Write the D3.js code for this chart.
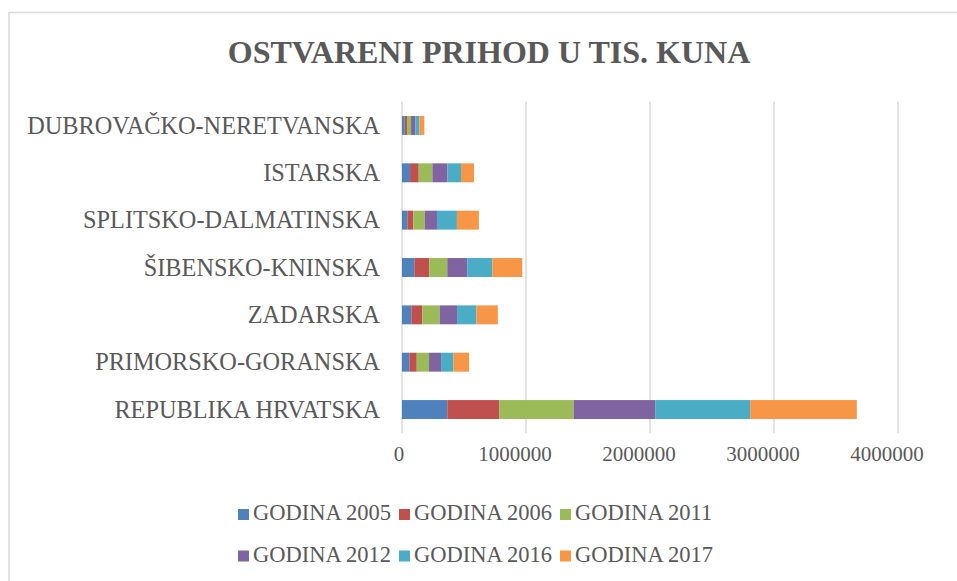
<!DOCTYPE html>
<html lang="hr">
<head>
  <meta charset="UTF-8">
  <title>Ostvareni prihod</title>
  <script src="https://d3js.org/d3.v7.min.js"></script>
  <style>
    html, body { margin: 0; padding: 0; background: #fff; }
    text { font-family: "Liberation Serif", "Times New Roman", serif; fill: #595959; }
  </style>
</head>
<body>
  <div class="canvas"></div>
  <script>
    // kategorije odozgo prema dolje
    const regije = ['DUBROVAČKO-NERETVANSKA', 'ISTARSKA', 'SPLITSKO-DALMATINSKA',
      'ŠIBENSKO-KNINSKA', 'ZADARSKA', 'PRIMORSKO-GORANSKA', 'REPUBLIKA HRVATSKA'];
    const godine = ['GODINA 2005', 'GODINA 2006', 'GODINA 2011', 'GODINA 2012', 'GODINA 2016', 'GODINA 2017'];
    const god2005 = [22000, 65000, 43000, 99000, 75000, 59000, 365000];
    const god2006 = [19000, 70000, 48000, 121000, 89000, 60000, 419000];
    const god2011 = [32000, 110000, 92000, 145000, 140000, 99000, 600000];
    const god2012 = [35000, 121000, 99000, 161000, 140000, 97000, 658000];
    const god2016 = [32000, 110000, 161000, 202000, 156000, 99000, 766000];
    const god2017 = [40000, 105000, 177000, 242000, 173000, 127000, 860000];
    const xTicks = [0, 1000000, 2000000, 3000000, 4000000];
    const boje = ['#4F81BD', '#C0504D', '#9BBB59', '#8064A2', '#4BACC6', '#F79646'];

    const width = 957;
    const height = 581;
    const serije = [god2005, god2006, god2011, god2012, god2016, god2017];

    const rows = regije.map((r, i) => {
      const o = { regija: r };
      godine.forEach((g, j) => { o[g] = serije[j][i]; });
      return o;
    });

    const svg = d3.select('.canvas').append('svg')
      .attr('width', width).attr('height', height);

    // okvir
    svg.append('path')
      .attr('d', `M9,${height} L9,12.5 L${width},12.5`)
      .attr('fill', 'none').attr('stroke', '#d9d9d9').attr('stroke-width', 1.5);

    svg.append('text')
      .attr('x', 489).attr('y', 63)
      .attr('text-anchor', 'middle')
      .style('font-size', '32px').style('font-weight', 'bold')
      .text('OSTVARENI PRIHOD U TIS. KUNA');

    const x = d3.scaleLinear().domain([0, 4000000]).range([402, 898]);
    const y = d3.scaleBand().domain(regije).range([101.8, 433.2])
      .paddingInner(0.6).paddingOuter(0.3);

    // mreža
    svg.append('g').selectAll('line').data(xTicks).enter().append('line')
      .attr('x1', d => x(d)).attr('x2', d => x(d))
      .attr('y1', 101.8).attr('y2', 433.2)
      .attr('stroke', '#d9d9d9').attr('stroke-width', 1.5);

    const stack = d3.stack().keys(godine)(rows);

    svg.append('g').selectAll('g').data(stack).enter().append('g')
      .attr('fill', (d, i) => boje[i])
      .selectAll('rect').data(d => d).enter().append('rect')
      .attr('x', d => x(d[0]))
      .attr('y', d => y(d.data.regija))
      .attr('width', d => x(d[1]) - x(d[0]))
      .attr('height', y.bandwidth());

    // oznake kategorija
    svg.append('g').selectAll('text').data(regije).enter().append('text')
      .attr('x', 380)
      .attr('y', d => y(d) + y.bandwidth() / 2 + 8.3)
      .attr('text-anchor', 'end')
      .style('font-size', '24.3px')
      .text(d => d);

    // oznake osi x
    svg.append('g').selectAll('text').data(xTicks).enter().append('text')
      .attr('x', d => x(d) + (d === 0 ? -3 : -11))
      .attr('y', 461)
      .attr('text-anchor', 'middle')
      .style('font-size', '21px')
      .text(d => d3.format('d')(d));

    // legenda
    const leg = svg.append('g').selectAll('g').data(godine).enter().append('g')
      .attr('transform', (d, i) => `translate(${238 + (i % 3) * 161}, ${i < 3 ? 520 : 561.5})`);
    leg.append('rect')
      .attr('x', 0).attr('y', -11).attr('width', 11).attr('height', 11)
      .attr('fill', (d, i) => boje[i]);
    leg.append('text')
      .attr('x', 15).attr('y', 0)
      .style('font-size', '22.5px')
      .text(d => d);
  </script>
</body>
</html>
